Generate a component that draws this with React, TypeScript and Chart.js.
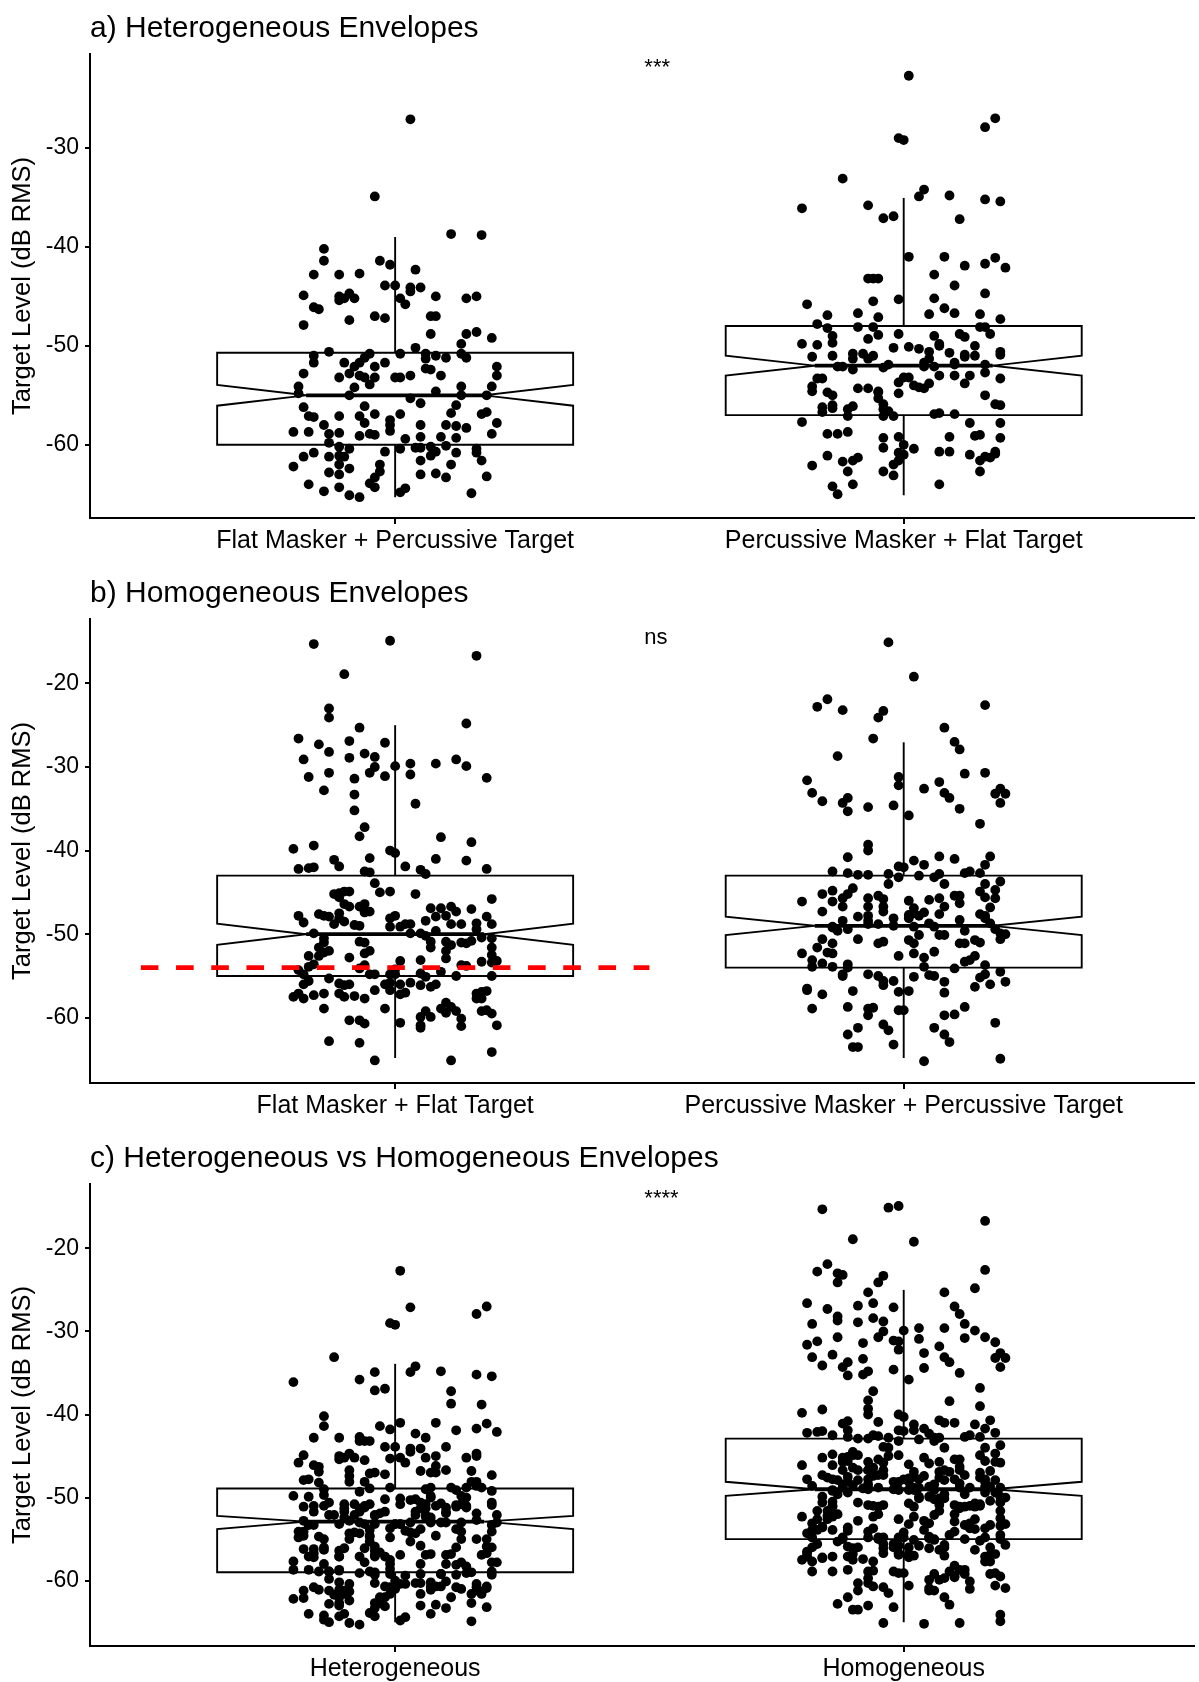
import React, { useEffect, useRef } from "react";
import { Chart, registerables } from "chart.js";

Chart.register(...registerables);

const FONT = "'Liberation Sans', Arial, Helvetica, sans-serif";

// ---------------- Data ----------------
const heteroCategories = ["Flat Masker + Percussive Target", "Percussive Masker + Flat Target"];
const homoCategories = ["Flat Masker + Flat Target", "Percussive Masker + Percussive Target"];
const combinedCategories = ["Heterogeneous", "Homogeneous"];
const panelTitles = ["a) Heterogeneous Envelopes", "b) Homogeneous Envelopes", "c) Heterogeneous vs Homogeneous Envelopes"];
const sigLabels = ["***", "ns", "****"];
const sigLabelY = [-22.4, -15.2, -14.6];
const yTicksA = [-60, -50, -40, -30];
const yTicksBC = [-60, -50, -40, -30, -20];
const referenceLevel = -54;

// box stats: [whiskerLow, Q1, notchLow, median, notchHigh, Q3, whiskerHigh]
const flatPercBox = [-65.3, -60.0, -56.05, -55.0, -53.95, -50.7, -39.0];
const percFlatBox = [-65.1, -57.0, -53.0, -52.0, -51.0, -48.0, -35.05];
const flatFlatBox = [-64.8, -55.0, -51.26, -50.0, -48.74, -43.0, -25.0];
const percPercBox = [-64.8, -54.0, -50.1, -49.0, -47.9, -43.0, -27.05];
const heteroBox = [-65.0, -59.0, -53.8, -52.9, -52.2, -48.9, -33.9];
const homoBox = [-65.0, -55.0, -49.8, -49.0, -48.1, -42.9, -25.0];

// Flat Masker + Percussive Target
const flatPercValues = [-27.1,-34.9,-38.7,-38.8,-40.2,-41.4,-41.4,-41.8,-42.3,-42.8,-42.8,-42.7,-43.9,-43.9,
-44.9,-45.0,-45.4,-45.2,-45.2,-44.7,-45.2,-45.8,-44.5,-44.1,-44.1,-45.0,-45.2,-45.0,
-46.1,-46.3,-47.0,-47.2,-47.4,-47.9,-47.0,-47.0,-48.8,-48.8,-48.6,-49.2,-49.8,-50.2,
-50.6,-51.0,-51.7,-50.8,-51.2,-51.7,-51.7,-52.1,-52.1,-51.7,-50.8,-50.8,-51.3,-51.0,-51.2,-50.8,-51.2,-52.1,-53.0,
-52.8,-53.2,-52.8,-53.0,-53.2,-53.2,-53.2,-53.2,-53.0,-52.3,-52.4,-53.0,
-53.9,-54.2,-54.1,-54.1,-54.1,-54.6,-54.8,-55.0,-55.0,-55.0,
-55.3,-55.8,-56.2,-56.1,-56.0,-57.1,-57.2,-57.1,-57.1,-56.9,-56.9,-56.8,-56.9,-56.7,
-57.8,-57.5,-58.0,-58.6,-58.0,-58.0,-58.0,-58.1,-58.3,-57.8,
-58.7,-58.7,-58.9,-58.8,-58.9,-59.0,-59.1,-59.4,-59.2,-59.2,-59.3,-58.9,
-59.8,-60.2,-60.4,-60.4,-60.3,-60.3,-60.2,-60.1,-60.4,-60.7,-60.7,-60.8,-60.8,
-61.2,-60.8,-61.2,-61.1,-61.2,-61.1,-61.6,-61.6,
-62.2,-62.0,-62.4,-62.0,-62.0,-62.7,-63.3,-62.8,-63.0,-63.0,-62.9,-63.3,-63.2,
-63.9,-64.3,-64.0,-64.7,-64.3,-65.1,-65.3,-64.8,-64.4,-64.9];
const flatPercJitter = [0.03,-0.04,0.11,0.17,-0.14,-0.14,-0.03,-0.01,0.04,-0.16,-0.11,-0.07,-0.02,0.00,
-0.18,-0.11,-0.11,-0.10,-0.08,-0.09,0.01,0.02,0.03,0.03,0.05,0.08,0.14,0.16,
-0.16,-0.15,-0.04,-0.02,-0.09,-0.18,0.07,0.08,0.07,0.14,0.16,0.19,0.13,0.04,
-0.13,-0.16,-0.16,-0.05,-0.06,-0.07,-0.10,-0.08,-0.04,-0.02,0.01,0.06,0.06,0.08,0.10,0.13,0.14,0.20,0.20,
-0.18,-0.11,-0.09,-0.07,-0.06,-0.04,0.00,0.01,0.03,0.06,0.07,0.09,
-0.05,-0.08,-0.19,0.13,0.19,0.08,-0.19,-0.09,0.13,0.18,
0.03,0.05,-0.18,-0.06,0.12,-0.17,-0.16,-0.11,-0.07,-0.04,0.01,0.11,0.17,0.18,
-0.06,-0.01,-0.01,-0.01,-0.14,0.05,0.10,0.12,0.14,0.20,
-0.20,-0.17,-0.13,-0.11,-0.05,-0.04,-0.07,0.02,0.05,0.09,0.12,0.19,
-0.13,-0.11,-0.09,0.01,0.04,0.05,0.07,0.10,0.16,-0.02,0.08,0.12,0.16,
-0.18,-0.16,-0.13,-0.11,-0.10,0.07,0.05,0.17,
-0.20,-0.11,-0.09,-0.03,0.11,-0.03,-0.04,-0.13,-0.11,0.05,0.08,0.10,0.18,
-0.05,-0.04,-0.17,-0.14,-0.11,-0.09,-0.07,0.01,0.02,0.15];

// Percussive Masker + Flat Target
const percFlatValues = [-22.7,-27.0,-27.9,-29.0,-29.2,-33.1,-34.2,-34.9,-34.8,-35.2,-35.4,-36.1,-35.8,-37.1,-36.9,-37.2,
-41.0,-41.0,-41.1,-41.9,-41.7,-42.1,-42.8,-43.2,-43.2,-43.2,-43.9,-44.7,-45.2,-45.5,-45.3,-45.8,-46.2,-46.7,-46.9,-47.1,-46.8,-46.7,-46.8,-47.3,
-47.8,-48.2,-48.1,-48.1,-48.1,-48.1,-48.8,-48.8,-49.0,-48.8,-49.1,-49.0,-48.9,-49.3,
-49.8,-49.9,-49.7,-50.2,-50.1,-50.3,-49.8,-50.0,-50.0,-50.6,-50.7,-50.6,-50.9,
-51.1,-51.0,-50.8,-50.8,-51.0,-51.3,-51.3,-50.9,-51.1,-51.0,-51.3,-51.7,
-52.1,-52.1,-52.4,-52.2,-51.9,-52.1,-52.1,-51.7,-51.9,-51.9,
-53.3,-53.3,-53.2,-53.2,-53.0,-53.0,-53.0,-52.7,-53.3,-53.7,-54.0,-54.2,-54.3,-53.8,-53.8,
-54.1,-54.6,-54.7,-55.0,-54.3,-54.3,-54.6,-54.7,-54.8,-55.0,
-55.3,-55.9,-56.2,-56.0,-56.1,-56.4,-55.9,-56.0,-56.4,-56.6,
-56.7,-56.3,-57.1,-57.1,-57.1,-56.9,-56.8,-56.9,
-57.7,-57.8,-57.8,
-58.9,-58.9,-58.7,-59.3,-59.2,-59.2,-59.1,-59.0,-59.3,
-60.3,-60.0,-60.4,-60.7,-60.7,-60.7,
-61.1,-60.8,-61.0,-61.0,-61.2,-61.3,-60.9,
-62.1,-61.7,-61.6,-61.3,-62.0,-61.6,-61.6,-62.7,
-62.7,-62.7,-63.1,
-64.0,-64.0,-64.2,-65.0];
const percFlatJitter = [0.01,0.18,0.16,-0.01,0.00,-0.12,0.04,0.03,0.09,0.16,0.19,-0.20,-0.07,-0.04,-0.02,0.11,
0.01,0.08,0.18,0.12,0.16,0.20,0.06,-0.07,-0.05,-0.06,0.10,0.16,0.06,-0.06,-0.01,-0.19,0.08,-0.09,-0.15,-0.05,0.05,0.10,0.15,0.19,
-0.17,-0.15,-0.09,-0.06,0.15,0.16,0.17,-0.01,0.06,0.11,0.12,-0.14,-0.05,-0.07,
-0.20,-0.17,-0.14,-0.02,0.01,0.03,0.07,0.07,0.14,0.05,0.09,0.19,0.19,
-0.18,-0.14,-0.10,-0.08,-0.06,-0.10,-0.07,0.12,0.12,0.14,0.05,0.04,
-0.13,-0.12,-0.10,-0.04,-0.03,0.04,0.06,0.10,0.10,0.16,
-0.17,-0.16,0.00,0.01,0.07,0.10,0.13,0.16,0.19,-0.01,0.02,0.03,0.04,0.05,0.12,
-0.18,-0.18,-0.15,-0.14,-0.09,-0.07,-0.05,-0.05,-0.01,0.16,
-0.05,-0.04,-0.16,-0.14,-0.10,-0.11,0.18,0.19,-0.04,-0.03,
-0.16,-0.14,-0.11,-0.04,-0.02,0.06,0.07,0.10,
-0.20,0.13,0.19,
-0.15,-0.13,-0.11,-0.04,-0.01,0.09,0.14,0.15,0.19,
-0.04,0.00,0.02,0.07,0.09,0.18,
-0.15,-0.01,0.00,0.13,0.16,0.17,0.18,
-0.18,-0.12,-0.10,-0.09,-0.02,-0.01,0.15,0.15,
-0.11,-0.04,-0.02,
-0.10,0.07,-0.14,-0.13];

// Flat Masker + Flat Target
const flatFlatValues = [-14.9,-15.3,-16.7,-18.9,-23.0,-24.1,-24.8,
-26.6,-25.3,-26.9,-27.1,-27.3,-29.1,-28.2,-28.9,-28.4,-28.8,
-29.9,-29.6,-29.6,-29.1,-29.9,-31.2,-30.7,-31.4,-30.7,-30.0,-31.1,-30.9,-31.3,
-32.8,-33.3,-34.4,-35.2,-37.2,-38.3,-38.4,-39.0,
-39.8,-39.4,-40.0,-40.3,-40.9,-41.0,-41.2,
-41.1,-41.9,-42.2,-42.1,-42.0,-41.9,-42.3,-42.8,-42.2,
-42.5,-42.6,-43.9,-44.9,-45.0,-45.2,-45.1,-44.9,-44.9,-45.2,
-45.6,-46.4,-46.7,-46.7,-46.4,-47.5,-47.3,-47.3,-45.8,
-47.8,-48.6,-47.6,-47.8,-47.9,-48.8,-48.1,-48.5,-48.9,-49.0,-47.4,
-48.1,-47.8,-49.1,-49.1,-48.8,-48.8,-48.4,-46.9,-47.9,-46.9,-47.8,-46.7,-47.3,-47.0,-48.7,-47.9,-48.8,-48.8,-48.8,-49.4,-49.6,
-49.9,-50.5,-51.0,-51.6,-52.0,-52.6,-52.6,-52.2,
-49.9,-49.9,-50.2,-50.9,-51.6,-50.9,-52.0,-51.3,-51.0,-51.1,-50.8,-50.4,-50.5,-51.6,
-50.9,-51.0,-52.0,-52.3,-52.8,-53.7,-53.2,-53.1,-52.9,-52.5,-53.2,-53.3,-53.4,-53.7,-53.8,
-54.3,-53.9,-53.6,-54.8,-55.6,-56.0,-55.3,-54.1,-54.8,-54.8,-54.8,-54.2,-54.8,-54.7,-55.1,-54.5,-55.0,-55.0,
-55.9,-56.1,-56.0,-56.0,-55.8,-56.0,-55.8,-56.1,-56.3,-56.0,
-57.5,-57.7,-57.1,-57.3,-57.1,-57.1,-57.5,-57.4,-57.7,-56.7,-56.7,-57.2,-57.0,-57.1,-56.9,-56.8,-57.7,-57.7,
-58.9,-58.9,-59.2,-58.2,-58.9,-59.4,-58.7,-59.2,-60.1,-59.2,-59.1,-59.5,-59.9,-59.9,-61.2,-60.9,
-60.3,-60.3,-60.7,-60.6,-61.0,-60.9,
-62.8,-63.0,-64.1,-65.1,-65.1];
const flatFlatJitter = [-0.01,-0.16,0.16,-0.10,-0.13,-0.13,0.14,
-0.19,-0.07,-0.09,-0.02,-0.15,-0.18,-0.13,-0.09,-0.06,-0.04,
0.00,0.03,0.08,0.12,0.14,-0.17,-0.13,-0.08,-0.05,-0.04,-0.02,0.03,0.18,
-0.14,-0.08,0.04,-0.08,-0.06,-0.07,0.09,0.15,
-0.20,-0.16,-0.01,0.00,-0.05,0.08,0.14,
-0.12,-0.11,-0.19,-0.17,-0.16,0.02,0.05,0.06,0.18,
-0.06,-0.05,-0.04,-0.01,-0.03,-0.12,-0.11,-0.10,-0.09,0.04,
-0.11,-0.10,-0.09,-0.07,-0.06,-0.11,-0.05,-0.06,0.19,
-0.19,-0.18,-0.15,-0.14,-0.13,-0.12,-0.11,-0.10,-0.08,-0.07,-0.06,
-0.01,0.00,-0.01,0.01,0.03,0.02,0.06,0.07,0.08,0.09,0.10,0.11,0.12,0.15,0.16,0.18,0.19,0.11,0.13,0.16,0.08,
-0.16,-0.14,-0.14,-0.15,-0.13,-0.17,-0.15,-0.14,
0.03,0.05,0.06,0.07,0.07,0.10,0.10,0.11,0.13,0.14,0.15,0.17,0.19,0.19,
-0.07,-0.06,-0.05,-0.06,-0.09,-0.06,0.01,0.05,0.10,0.19,0.20,0.17,0.19,0.13,0.14,
-0.19,-0.17,-0.16,-0.18,-0.17,-0.18,-0.13,-0.07,-0.05,-0.04,-0.01,0.00,0.00,0.05,0.06,0.09,0.12,0.19,
-0.11,-0.10,-0.09,-0.02,-0.01,0.01,0.03,0.05,0.07,0.08,
-0.20,-0.18,-0.19,-0.16,-0.14,-0.11,-0.10,-0.08,-0.06,-0.04,-0.01,0.01,0.02,0.16,0.17,0.18,0.17,0.16,
-0.14,-0.02,0.06,0.10,0.09,0.10,0.11,0.12,0.13,0.17,0.18,0.19,0.07,0.05,0.05,0.05,
-0.07,-0.09,-0.06,0.01,0.13,0.20,
-0.13,-0.07,0.19,-0.04,0.11];

// Percussive Masker + Percussive Target
const percPercValues = [-15.1,-19.2,-22.8,-21.9,-23.2,-23.3,-24.1,-22.6,-25.3,-26.6,-27.0,-27.9,-28.7,
-31.6,-31.2,-32.2,-30.8,-30.7,-31.8,-32.6,-33.1,-33.1,-33.7,-32.6,-33.2,-33.2,-34.3,-34.1,-34.3,-33.7,-35.3,-34.8,-34.6,-35.8,-35.0,-36.8,
-39.3,-40.0,-40.8,-40.7,-41.0,-40.7,-41.2,-41.7,-41.7,-41.9,-42.0,
-42.5,-42.7,-42.9,-42.9,-42.8,-43.2,-43.0,-43.2,-42.8,-42.7,-42.5,-42.7,-44.0,-44.0,-43.7,-44.0,
-45.2,-44.8,-44.5,-45.2,-46.1,-45.7,-45.7,-45.4,-45.8,-46.0,-45.9,-45.7,-45.4,-45.4,-46.3,-44.9,-44.7,-45.7,-45.6,
-46.1,-47.3,-46.7,-46.7,-46.7,-47.3,-46.9,-47.5,-47.7,-47.4,-46.7,-46.8,-47.6,-47.8,-47.6,-47.8,
-49.1,-48.4,-47.9,-47.8,-48.4,-48.1,-48.1,-48.3,-48.1,-48.7,
-49.2,-49.6,-49.4,-48.8,-48.8,-49.0,-49.1,-48.7,-49.1,-50.1,-50.1,-50.1,-49.6,-49.4,-49.9,-50.0,-50.6,
-50.6,-51.1,-50.6,-51.1,-50.9,-50.7,-51.1,-51.1,-51.1,-50.7,-51.0,
-52.3,-51.6,-52.2,-52.3,-52.6,-52.3,-52.8,-52.1,
-53.1,-53.5,-53.9,-53.9,-53.6,-54.0,-53.3,-53.1,-52.6,-53.7,-54.1,-53.9,
-55.0,-54.8,-54.8,-55.0,-55.6,-56.1,-55.6,-55.1,-54.9,-55.0,-55.7,-54.8,-55.2,-56.0,-54.5,-55.7,
-56.5,-56.7,-57.2,-56.8,-56.9,-56.8,-57.0,-56.3,
-58.9,-58.7,-58.9,-58.8,-59.7,-59.1,-59.1,-59.7,-59.6,-58.7,
-61.2,-62.0,-60.8,-61.5,-61.2,-60.6,
-63.5,-63.5,-63.2,-62.0,-62.9,
-65.2,-64.9];
const percPercJitter = [-0.03,0.02,-0.17,-0.15,-0.12,-0.04,-0.05,0.16,0.08,-0.06,0.10,0.11,-0.13,
-0.19,-0.01,-0.01,0.12,0.16,0.07,0.04,-0.18,0.08,0.09,0.19,0.18,0.20,0.19,-0.16,-0.12,-0.11,-0.11,-0.07,-0.02,0.01,0.11,0.15,
-0.07,-0.07,-0.11,0.07,0.10,0.17,0.02,0.04,0.16,-0.01,0.00,
-0.14,-0.11,-0.09,-0.07,-0.03,-0.01,0.03,0.06,0.07,0.12,0.13,0.15,0.08,-0.03,0.19,0.16,
-0.16,-0.14,-0.10,-0.11,-0.14,-0.12,-0.07,-0.05,-0.04,0.01,0.05,0.07,0.10,0.11,0.11,0.15,0.18,0.18,0.16,
-0.20,-0.16,-0.12,-0.07,-0.04,-0.04,0.02,0.02,0.01,0.04,0.08,0.17,0.15,0.16,0.07,0.03,
-0.14,-0.12,-0.09,-0.07,-0.07,-0.02,0.01,0.11,0.16,0.17,
-0.14,-0.13,-0.11,-0.07,-0.05,-0.02,0.02,0.05,0.06,0.08,0.07,0.03,0.12,0.18,0.19,0.20,0.19,
-0.16,-0.14,-0.09,-0.05,-0.04,0.01,0.02,0.11,0.12,0.14,0.15,
-0.20,-0.17,-0.15,-0.14,-0.01,0.02,0.04,0.06,
-0.18,-0.16,-0.18,-0.14,-0.11,-0.11,0.12,0.13,0.14,0.16,0.10,0.04,
-0.12,-0.12,-0.07,-0.05,-0.04,-0.04,-0.02,0.02,0.05,0.06,0.08,0.16,0.15,0.17,0.19,0.20,
-0.19,-0.19,-0.16,-0.10,-0.01,0.01,0.08,0.14,
-0.18,-0.11,-0.07,-0.06,-0.07,-0.01,0.00,0.08,0.10,0.12,
-0.09,-0.11,-0.04,-0.03,0.06,0.18,
-0.10,-0.09,-0.02,0.08,0.09,
0.04,0.19];

// Panel c pools the two conditions of each envelope type
const heteroValues = [...flatPercValues, ...percFlatValues];
const heteroJitter = [...flatPercJitter, ...percFlatJitter];
const homoValues = [...flatFlatValues, ...percPercValues];
const homoJitter = [...flatFlatJitter, ...percPercJitter];

// ---------------- Layout / style ----------------
const BOX_HALF = 0.35;
const NOTCH_HALF = 0.175;
const X_MIN = 0.4;
const X_MAX = 2.571;
const SIG_X = 1.49;

type Group = { values: number[]; jitter: number[]; box: number[] };
type PanelCfg = {
  title: string;
  categories: string[];
  groups: Group[];
  yMin: number;
  yMax: number;
  yTicks: number[];
  sig: string;
  sigY: number;
  refLine: boolean;
  top: number;
  height: number;
  padTop: number;
  axisH: number;
};

const panels: PanelCfg[] = [
  {
    title: panelTitles[0], categories: heteroCategories,
    groups: [
      { values: flatPercValues, jitter: flatPercJitter, box: flatPercBox },
      { values: percFlatValues, jitter: percFlatJitter, box: percFlatBox },
    ],
    yMin: -67.4, yMax: -20.5, yTicks: yTicksA, sig: sigLabels[0], sigY: sigLabelY[0], refLine: false,
    top: 0, height: 560, padTop: 54, axisH: 42,
  },
  {
    title: panelTitles[1], categories: homoCategories,
    groups: [
      { values: flatFlatValues, jitter: flatFlatJitter, box: flatFlatBox },
      { values: percPercValues, jitter: percPercJitter, box: percPercBox },
    ],
    yMin: -67.8, yMax: -12.3, yTicks: yTicksBC, sig: sigLabels[1], sigY: sigLabelY[1], refLine: true,
    top: 560, height: 560, padTop: 59, axisH: 37,
  },
  {
    title: panelTitles[2], categories: combinedCategories,
    groups: [
      { values: heteroValues, jitter: heteroJitter, box: heteroBox },
      { values: homoValues, jitter: homoJitter, box: homoBox },
    ],
    yMin: -67.87, yMax: -12.25, yTicks: yTicksBC, sig: sigLabels[2], sigY: sigLabelY[2], refLine: false,
    top: 1120, height: 562, padTop: 64, axisH: 36,
  },
];

function groupDatasets(c: number, g: Group): any[] {
  const [wl, q1, nl, med, nh, q3, wh] = g.box;
  const w = BOX_HALF;
  const n = NOTCH_HALF;
  const line = {
    showLine: true, borderColor: "#000", pointRadius: 0, pointHoverRadius: 0,
    fill: false, tension: 0, borderJoinStyle: "miter", order: 3,
  };
  const pts = [];
  const len = Math.min(g.values.length, g.jitter.length);
  for (let i = 0; i < len; i++) pts.push({ x: c + g.jitter[i], y: g.values[i] });
  return [
    {
      ...line, borderWidth: 1.9,
      data: [
        { x: c - w, y: q3 }, { x: c + w, y: q3 }, { x: c + w, y: nh }, { x: c + n, y: med },
        { x: c + w, y: nl }, { x: c + w, y: q1 }, { x: c - w, y: q1 }, { x: c - w, y: nl },
        { x: c - n, y: med }, { x: c - w, y: nh }, { x: c - w, y: q3 }, { x: c + w, y: q3 },
      ],
    },
    { ...line, borderWidth: 3.8, data: [{ x: c - n, y: med }, { x: c + n, y: med }] },
    { ...line, borderWidth: 1.9, data: [{ x: c, y: q3 }, { x: c, y: wh }] },
    { ...line, borderWidth: 1.9, data: [{ x: c, y: q1 }, { x: c, y: wl }] },
    {
      showLine: false, order: 2, data: pts,
      pointRadius: 4.9, pointHoverRadius: 4.9, pointBorderWidth: 0,
      pointBackgroundColor: "#000", backgroundColor: "#000", borderColor: "#000",
    },
  ];
}

function makePanel(canvas: HTMLCanvasElement, cfg: PanelCfg) {
  const datasets: any[] = [];
  cfg.groups.forEach((g, i) => datasets.push(...groupDatasets(i + 1, g)));
  if (cfg.refLine) {
    datasets.push({
      showLine: true, order: 1, data: [{ x: 0.5, y: referenceLevel }, { x: 1.5, y: referenceLevel }],
      borderColor: "#FF0000", borderWidth: 4.8, borderDash: [17.6, 17.6], borderCapStyle: "butt",
      pointRadius: 0, pointHoverRadius: 0, fill: false,
    });
  }

  const textPlugin = {
    id: "panelText",
    afterDraw(chart: any) {
      const ctx = chart.ctx;
      const area = chart.chartArea;
      ctx.save();
      ctx.fillStyle = "#000";
      ctx.textBaseline = "alphabetic";
      ctx.textAlign = "left";
      ctx.font = `30px ${FONT}`;
      ctx.fillText(cfg.title, area.left, area.top - 17);

      ctx.save();
      ctx.translate(30, (area.top + area.bottom) / 2);
      ctx.rotate(-Math.PI / 2);
      ctx.textAlign = "center";
      ctx.font = `25.5px ${FONT}`;
      ctx.fillText("Target Level (dB RMS)", 0, 0);
      ctx.restore();

      ctx.font = `22px ${FONT}`;
      ctx.textAlign = "left";
      const sx = chart.scales.x.getPixelForValue(SIG_X);
      const sy = chart.scales.y.getPixelForValue(cfg.sigY);
      ctx.fillText(cfg.sig, sx, sy + 1);
      ctx.restore();
    },
  };

  return new Chart(canvas, {
    type: "scatter",
    data: { datasets },
    options: {
      responsive: false,
      animation: false,
      devicePixelRatio: 1,
      events: [],
      layout: { padding: { top: cfg.padTop, left: 0, right: 0, bottom: 0 } },
      plugins: {
        legend: { display: false },
        tooltip: { enabled: false },
        title: { display: false },
      },
      scales: {
        x: {
          type: "linear",
          position: "bottom",
          min: X_MIN,
          max: X_MAX,
          afterBuildTicks: (axis: any) => {
            axis.ticks = [{ value: 1 }, { value: 2 }];
          },
          afterFit: (s: any) => {
            s.height = cfg.axisH;
          },
          ticks: {
            autoSkip: false,
            maxRotation: 0,
            minRotation: 0,
            padding: 2,
            color: "#000",
            font: { family: FONT, size: 25 },
            callback: (v: any) => cfg.categories[Math.round(Number(v)) - 1] ?? "",
          },
          grid: { drawOnChartArea: false, drawTicks: true, tickLength: 6, color: "#000", lineWidth: 2 },
          border: { display: true, color: "#000", width: 2 },
        },
        y: {
          type: "linear",
          position: "left",
          min: cfg.yMin,
          max: cfg.yMax,
          afterBuildTicks: (axis: any) => {
            axis.ticks = cfg.yTicks.map((v) => ({ value: v }));
          },
          afterFit: (s: any) => {
            s.width = 90;
          },
          ticks: {
            padding: 6,
            color: "#000",
            font: { family: FONT, size: 23 },
          },
          grid: { drawOnChartArea: false, drawTicks: true, tickLength: 5, color: "#000", lineWidth: 2 },
          border: { display: true, color: "#000", width: 2 },
        },
      },
    } as any,
    plugins: [textPlugin],
  });
}

export default function App() {
  const refs = [useRef<HTMLCanvasElement>(null), useRef<HTMLCanvasElement>(null), useRef<HTMLCanvasElement>(null)];

  useEffect(() => {
    const charts = panels.map((p, i) => makePanel(refs[i].current as HTMLCanvasElement, p));
    return () => charts.forEach((c) => c.destroy());
  }, []);

  return (
    <div style={{ position: "absolute", left: 0, top: 0, width: 1199, height: 1682, background: "#fff", overflow: "hidden" }}>
      {panels.map((p, i) => (
        <canvas
          key={i}
          ref={refs[i]}
          width={1199}
          height={p.height}
          style={{ position: "absolute", left: 0, top: p.top, width: 1199, height: p.height, display: "block" }}
        />
      ))}
    </div>
  );
}
